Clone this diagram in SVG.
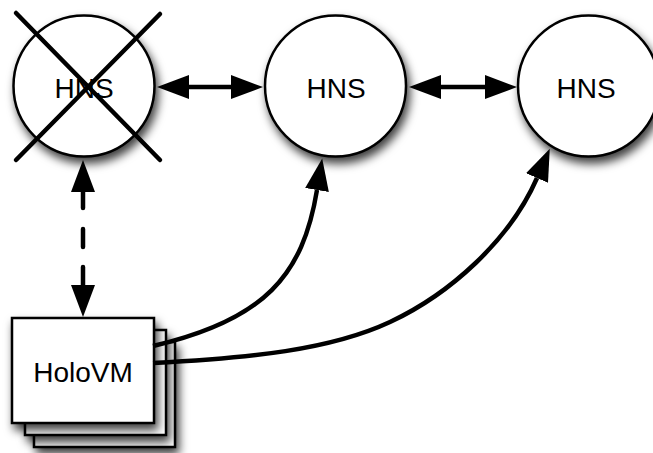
<svg xmlns="http://www.w3.org/2000/svg" width="653" height="453" viewBox="0 0 653 453">
<style>
.node{fill:#fff;stroke:#000;stroke-width:2.5}
.lbl{font-family:"Liberation Sans",Arial,sans-serif;font-size:28px;fill:#000;text-anchor:middle}
.conn{fill:none;stroke:#000;stroke-width:4.5}
.cross{stroke:#000;stroke-width:4.5;stroke-linecap:round}
</style>
<defs>
<filter id="sh" x="-30%" y="-30%" width="170%" height="170%">
<feDropShadow dx="3" dy="6" stdDeviation="5" flood-color="#000" flood-opacity="0.75"/>
</filter>
<marker id="ah" markerUnits="userSpaceOnUse" viewBox="0 0 32 24" markerWidth="32" markerHeight="24" refX="0" refY="12" orient="auto-start-reverse">
<path d="M0,0 L32,12 L0,24 z" fill="#000"/>
</marker>
</defs>
<rect width="653" height="453" fill="#fff"/>
<g id="hns1">
<circle class="node" cx="84" cy="86" r="70.5" filter="url(#sh)"/>
<text class="lbl" x="84" y="98">HNS</text>
<line class="cross" x1="16" y1="13" x2="160" y2="160"/>
<line class="cross" x1="160" y1="14" x2="16" y2="160"/>
</g>
<g id="hns2">
<circle class="node" cx="335.5" cy="86" r="70.5" filter="url(#sh)"/>
<text class="lbl" x="336" y="98">HNS</text>
</g>
<g id="hns3">
<circle class="node" cx="588.5" cy="86" r="70.5" filter="url(#sh)"/>
<text class="lbl" x="586" y="98">HNS</text>
</g>
<g id="holovm">
<rect class="node" x="34" y="342" width="141" height="105" filter="url(#sh)"/>
<rect class="node" x="25" y="330" width="141" height="105" filter="url(#sh)"/>
<rect class="node" x="12" y="318" width="142" height="105" filter="url(#sh)"/>
<text class="lbl" x="83" y="382">HoloVM</text>
</g>
<g id="connectors">
<path class="conn" d="M189,87 L231,87" marker-start="url(#ah)" marker-end="url(#ah)"/>
<path class="conn" d="M441,87 L485,87" marker-start="url(#ah)" marker-end="url(#ah)"/>
<path class="conn" d="M83,192 L83,285" stroke-dasharray="16 21 18 20 30" stroke-linecap="round" marker-start="url(#ah)" marker-end="url(#ah)"/>
<path class="conn" d="M153,346 C265,320 303,275 317,190" marker-end="url(#ah)"/>
<path class="conn" d="M153,363 C250,358 330,350 390,322 C450,294 510,240 537,178" marker-end="url(#ah)"/>
</g>
</svg>
